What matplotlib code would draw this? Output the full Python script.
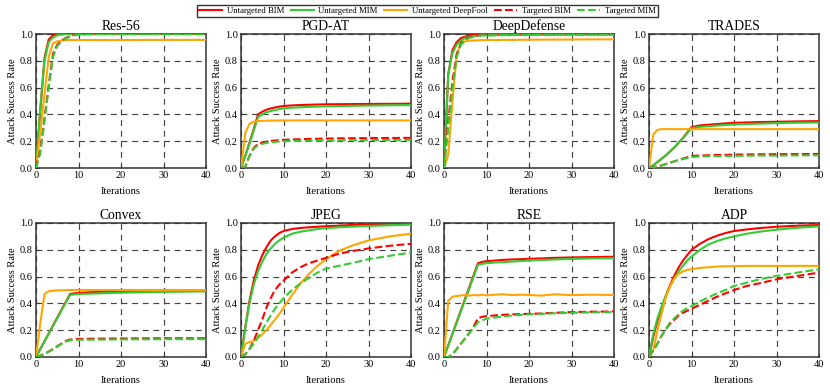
import matplotlib
matplotlib.use("Agg")
import matplotlib.pyplot as plt

plt.rcParams['font.family'] = ['Liberation Serif', 'DejaVu Serif']

# iteration grid shared by all curves
iters = [0, 1, 2, 3, 4, 5, 6, 7, 8, 9, 10, 12, 14, 16, 18, 20, 23, 26, 30, 35, 40]

titles = ["Res-56", "PGD-AT", "DeepDefense", "TRADES", "Convex", "JPEG", "RSE", "ADP"]
series_names = ["Untargeted BIM", "Untargeted MIM", "Untargeted DeepFool", "Targeted BIM", "Targeted MIM"]

res56_ubim = [0, .42, .82, .96, .99, 1.0, 1.0, 1.0, 1.0, 1.0, 1.0, 1.0, 1.0, 1.0, 1.0, 1.0, 1.0, 1.0, 1.0, 1.0, 1.0]
res56_umim = [0, .45, .80, .94, .975, .99, .995, 1.0, 1.0, 1.0, 1.0, 1.0, 1.0, 1.0, 1.0, 1.0, 1.0, 1.0, 1.0, 1.0, 1.0]
res56_udf = [0, .27, .55, .83, .93, .945, .952, .954, .955, .955, .955, .955, .955, .955, .955, .955, .955, .956, .956, .956, .956]
res56_tbim = [0, .13, .37, .62, .85, .92, .95, .97, .985, .995, 1.0, 1.0, 1.0, 1.0, 1.0, 1.0, 1.0, 1.0, 1.0, 1.0, 1.0]
res56_tmim = [0, .11, .35, .60, .83, .91, .945, .965, .98, .99, .995, .997, 1.0, 1.0, 1.0, 1.0, 1.0, 1.0, 1.0, 1.0, 1.0]

pgdat_ubim = [0, .09, .19, .29, .40, .42, .435, .445, .452, .458, .463, .467, .47, .472, .474, .475, .476, .477, .478, .479, .48]
pgdat_umim = [0, .09, .18, .28, .38, .40, .415, .425, .433, .44, .445, .45, .453, .456, .458, .46, .462, .464, .466, .468, .47]
pgdat_udf = [0, .26, .33, .345, .35, .352, .353, .354, .354, .355, .355, .355, .355, .355, .355, .355, .355, .355, .355, .355, .355]
pgdat_tbim = [0, .01, .09, .15, .18, .19, .197, .202, .205, .208, .21, .213, .215, .217, .218, .22, .221, .222, .223, .224, .225]
pgdat_tmim = [0, .01, .09, .145, .17, .18, .187, .192, .195, .198, .20, .202, .203, .204, .205, .205, .206, .207, .208, .209, .21]

dd_ubim = [0, .70, .88, .94, .97, .98, .99, .993, .995, .997, 1.0, 1.0, 1.0, 1.0, 1.0, 1.0, 1.0, 1.0, 1.0, 1.0, 1.0]
dd_umim = [0, .70, .86, .92, .95, .97, .98, .985, .988, .99, .99, .991, .992, .992, .993, .993, .994, .994, .995, .995, .995]
dd_udf = [0, .10, .50, .85, .93, .945, .95, .952, .953, .954, .955, .955, .956, .956, .957, .957, .958, .958, .959, .96, .96]
dd_tbim = [0, .35, .65, .85, .93, .96, .975, .985, .99, .993, .995, .997, 1.0, 1.0, 1.0, 1.0, 1.0, 1.0, 1.0, 1.0, 1.0]
dd_tmim = [0, .30, .60, .83, .92, .955, .97, .98, .985, .99, .99, .991, .992, .993, .993, .994, .994, .995, .995, .995, .995]

trades_ubim = [0, .02, .045, .07, .095, .125, .155, .19, .225, .265, .305, .318, .323, .328, .333, .337, .34, .343, .345, .348, .35]
trades_umim = [0, .02, .045, .07, .095, .125, .155, .188, .222, .26, .298, .307, .312, .317, .321, .325, .328, .331, .335, .338, .34]
trades_udf = [0, .25, .285, .29, .29, .29, .29, .29, .29, .29, .29, .29, .29, .29, .29, .29, .29, .29, .29, .29, .29]
trades_tbim = [0, .005, .012, .02, .03, .04, .05, .06, .07, .08, .09, .093, .095, .097, .098, .10, .101, .102, .103, .104, .105]
trades_tmim = [0, .005, .012, .02, .03, .04, .05, .058, .066, .074, .082, .086, .088, .089, .09, .091, .092, .093, .093, .094, .095]

convex_ubim = [0, .059, .118, .176, .235, .294, .353, .41, .47, .475, .478, .482, .485, .487, .489, .49, .492, .493, .495, .496, .497]
convex_umim = [0, .058, .116, .174, .232, .29, .348, .405, .463, .467, .47, .472, .474, .476, .478, .48, .482, .484, .486, .488, .49]
convex_udf = [0, .25, .47, .49, .495, .497, .498, .499, .5, .5, .5, .5, .5, .5, .5, .5, .5, .5, .5, .5, .5]
convex_tbim = [0, .01, .025, .04, .06, .08, .10, .12, .13, .133, .135, .136, .137, .137, .138, .138, .139, .139, .14, .14, .14]
convex_tmim = [0, .01, .025, .04, .058, .077, .097, .115, .125, .127, .128, .129, .13, .13, .131, .131, .132, .132, .133, .133, .133]

jpeg_ubim = [0, .22, .42, .57, .68, .76, .82, .87, .90, .925, .94, .955, .963, .968, .972, .976, .98, .985, .99, .995, .998]
jpeg_umim = [0, .22, .40, .54, .64, .71, .77, .81, .845, .87, .89, .92, .935, .945, .955, .962, .968, .973, .978, .983, .988]
jpeg_udf = [0, .10, .11, .12, .14, .17, .20, .24, .28, .32, .37, .46, .55, .62, .68, .73, .79, .83, .87, .90, .92]
jpeg_tbim = [0, .02, .06, .12, .20, .28, .37, .44, .50, .54, .57, .63, .67, .70, .72, .74, .77, .79, .81, .83, .845]
jpeg_tmim = [0, .02, .06, .10, .15, .20, .26, .31, .36, .40, .44, .50, .55, .59, .63, .66, .68, .70, .73, .755, .78]

rse_ubim = [0, .0875, .175, .2625, .35, .4375, .525, .6125, .70, .71, .715, .72, .725, .728, .73, .733, .736, .74, .743, .746, .748]
rse_umim = [0, .086, .172, .258, .344, .43, .516, .602, .688, .695, .70, .705, .708, .712, .716, .72, .724, .728, .732, .736, .738]
rse_udf = [0, .42, .45, .455, .46, .462, .458, .463, .46, .465, .46, .465, .468, .462, .465, .463, .458, .468, .462, .465, .463]
rse_tbim = [0, 0, .02, .06, .10, .14, .18, .23, .29, .30, .305, .31, .315, .318, .32, .322, .325, .33, .335, .338, .34]
rse_tmim = [0, 0, .02, .06, .10, .14, .18, .22, .26, .275, .285, .295, .303, .31, .314, .318, .322, .326, .33, .333, .335]

adp_ubim = [0, .15, .27, .37, .46, .54, .61, .67, .72, .76, .80, .845, .88, .905, .925, .94, .952, .962, .972, .98, .985]
adp_umim = [0, .17, .29, .38, .46, .53, .59, .64, .68, .72, .75, .80, .84, .865, .885, .90, .92, .935, .95, .965, .975]
adp_udf = [0, .05, .20, .33, .45, .53, .59, .62, .64, .65, .655, .665, .67, .675, .677, .678, .68, .68, .68, .68, .68]
adp_tbim = [0, .05, .10, .16, .21, .25, .28, .31, .33, .345, .36, .39, .42, .45, .475, .50, .53, .55, .58, .605, .63]
adp_tmim = [0, .05, .10, .16, .21, .26, .29, .32, .345, .365, .38, .415, .445, .475, .50, .53, .555, .58, .605, .63, .655]

panels = [
    (res56_ubim, res56_umim, res56_udf, res56_tbim, res56_tmim),
    (pgdat_ubim, pgdat_umim, pgdat_udf, pgdat_tbim, pgdat_tmim),
    (dd_ubim, dd_umim, dd_udf, dd_tbim, dd_tmim),
    (trades_ubim, trades_umim, trades_udf, trades_tbim, trades_tmim),
    (convex_ubim, convex_umim, convex_udf, convex_tbim, convex_tmim),
    (jpeg_ubim, jpeg_umim, jpeg_udf, jpeg_tbim, jpeg_tmim),
    (rse_ubim, rse_umim, rse_udf, rse_tbim, rse_tmim),
    (adp_ubim, adp_umim, adp_udf, adp_tbim, adp_tmim),
]

colors = ["#ff0000", "#33cc33", "#ffa500", "#ff0000", "#33cc33"]
styles = ["-", "-", "-", "--", "--"]

W, H = 830, 391
fig = plt.figure(figsize=(W / 100, H / 100), dpi=100)
col_left = [36, 241, 444, 649]
row_top = [34, 223]
aw, ah = 170, 134

handles = []
for i, (title, data) in enumerate(zip(titles, panels)):
    r, c = divmod(i, 4)
    ax = fig.add_axes([col_left[c] / W, 1 - (row_top[r] + ah) / H, aw / W, ah / H])
    for j, ys in enumerate(data):
        ln, = ax.plot(iters, ys, color=colors[j], ls=styles[j], lw=1.5,
                      label=series_names[j], zorder=3)
        if i == 0:
            handles.append(ln)
    ax.set_xlim(0, 40)
    ax.set_ylim(0, 1.0)
    ax.set_xticks([0, 10, 20, 30, 40])
    ax.set_yticks([0, 0.2, 0.4, 0.6, 0.8, 1.0])
    ax.set_yticklabels(["0.0", "0.2", "0.4", "0.6", "0.8", "1.0"])
    ax.grid(True, color="#444444", ls=(0, (5, 4)), lw=0.85)
    ax.tick_params(direction="in", length=2.5, labelsize=7.4, pad=2.5, color="#333333")
    for s in ax.spines.values():
        s.set_color("#333333")
        s.set_linewidth(1.1)
    ax.set_title(title, fontsize=9.8, pad=3)
    ax.set_xlabel("Iterations", fontsize=7.6, labelpad=4.5)
    ax.set_ylabel("Attack Success Rate", fontsize=7.6, labelpad=2)

leg = fig.legend(handles, series_names, loc="center", bbox_to_anchor=(0.515, 0.972),
                 ncol=5, fontsize=6.3, frameon=True, fancybox=False,
                 handlelength=2.6, columnspacing=0.8, borderpad=0.25, handletextpad=0.5)
leg.get_frame().set_edgecolor("black")
leg.get_frame().set_linewidth(1.0)

fig.savefig("out.png", dpi=100)
